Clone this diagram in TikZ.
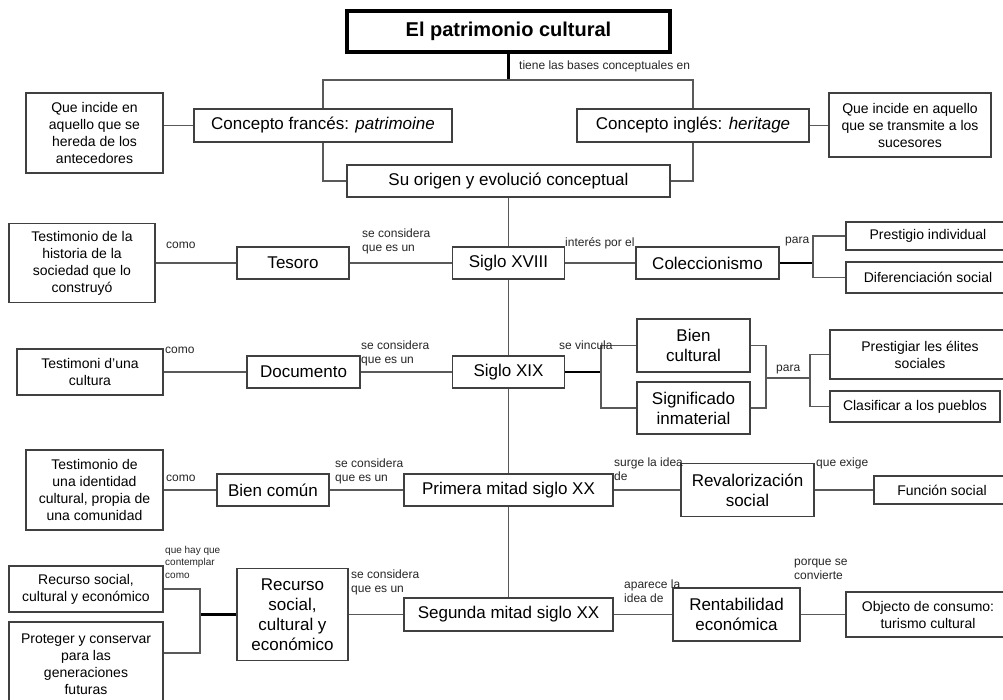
\documentclass[tikz,border=0pt]{standalone}
\usepackage{fontspec}
\setmainfont{Liberation Sans}

\begin{document}
\begin{tikzpicture}[
    x=1pt, y=-1pt,
    % --- box styles ---
    headbox/.style={
        draw=black, fill=white, line width=3.5pt,
        align=center, inner sep=1pt,
        font=\bfseries\fontsize{20}{24}\selectfont},
    topic/.style={
        draw=black!75, fill=white, line width=1.3pt,
        align=center, inner sep=1pt,
        font=\fontsize{17}{20}\selectfont},
    note/.style={
        draw=black!75, fill=white, line width=1.3pt,
        align=center, inner sep=1pt,
        font=\fontsize{14}{17}\selectfont},
    wh/.style 2 args={minimum width=#1pt, minimum height=#2pt},
    lbl/.style={
        anchor=north west, align=left, inner sep=0pt,
        font=\fontsize{12}{14}\selectfont, text=black!85},
    lblsmall/.style={lbl, font=\fontsize{10}{12.5}\selectfont},
    link/.style={draw=black!65, line width=1.3pt},
    fork/.style={draw=black, line width=2.3pt},
]
\useasboundingbox (0,0) rectangle (1003,700);

% ===== HEAD AND CONCEPTS =====
\node[headbox, wh={323}{41}] (title) at (508.5,31.5) {El patrimonio cultural};

\node[topic, wh={258}{33}] (cfr) at (323,125.5) {Concepto francés: \textit{patrimoine}};
\node[note, wh={137}{80}] (queFr) at (94.5,133) {Que incide en\\aquello que se\\hereda de los\\antecedores};

\node[topic, wh={232}{33}] (cen) at (693,125.5) {Concepto inglés: \textit{heritage}};
\node[note, wh={162}{64}] (queEn) at (910,125) {Que incide en aquello\\que se transmite a los\\sucesores};

\node[topic, wh={323}{32}] (origen) at (508.5,181) {Su origen y evolució conceptual};

% ===== SIGLO XVIII =====
\node[topic, wh={112}{32}] (sXVIII) at (508.5,263) {Siglo XVIII};
\node[topic, wh={112}{32}] (tesoro) at (293,263) {Tesoro};
\node[note, wh={146}{79}] (testHist) at (82,263) {Testimonio de la\\historia de la\\sociedad que lo\\construyó};
\node[topic, wh={143}{32}] (colecc) at (707.5,263) {Coleccionismo};
\node[note, wh={164}{28}] (prestInd) at (928,236) {Prestigio individual};
\node[note, wh={164}{31}] (difSoc) at (928,277.5) {Diferenciación social};

% ===== SIGLO XIX =====
\node[topic, wh={112}{32}] (sXIX) at (508.5,372) {Siglo XIX};
\node[topic, wh={113}{32}] (documento) at (303.5,372) {Documento};
\node[note, wh={146}{46}] (testCult) at (90,372) {Testimoni d’una\\cultura};
\node[topic, wh={113}{53}] (bienCult) at (693.5,345.5) {Bien\\cultural};
\node[topic, wh={113}{52}] (signif) at (693.5,408) {Significado\\inmaterial};
\node[note, wh={180}{49}] (prestElit) at (920,354.5) {Prestigiar les élites\\sociales};
\node[note, wh={170}{31}] (clasif) at (915,406.5) {Clasificar a los pueblos};

% ===== PRIMERA MITAD =====
\node[topic, wh={209}{32}] (primera) at (508.5,490) {Primera mitad siglo XX};
\node[topic, wh={112}{32}] (bienComun) at (273,490) {Bien común};
\node[note, wh={137}{80}] (testIdent) at (94.5,490) {Testimonio de\\una identidad\\cultural, propia de\\una comunidad};
\node[topic, wh={133}{53}] (revalor) at (747.5,490) {Revalorización\\social};
\node[note, wh={136}{28}] (funcion) at (942,490) {Función social};

% ===== SEGUNDA MITAD =====
\node[topic, wh={209}{33}] (segunda) at (508.5,614.5) {Segunda mitad siglo XX};
\node[topic, wh={111}{92}] (recMid) at (292.5,614.5) {Recurso\\social,\\cultural y\\económico};
\node[note, wh={154}{46}] (recLeft) at (86,589) {Recurso social,\\cultural y económico};
\node[note, wh={154}{84}] (proteger) at (86,664) {Proteger y conservar\\para las\\generaciones\\futuras};
\node[topic, wh={127}{53}] (rentab) at (736.5,614.5) {Rentabilidad\\económica};
\node[note, wh={164}{45}] (objecto) at (928,614.5) {Objecto de consumo:\\turismo cultural};

% ===== JUNCTIONS =====
\coordinate (split) at (508.5,80);
\coordinate (brA) at (813,263);
\coordinate (brB) at (601,372);
\coordinate (brC) at (766,378);
\coordinate (brD) at (810,378);
\coordinate (brE) at (200,614.5);

% ===== ARROWS — head =====
\draw[fork] (title.south) -- (split);
\draw[link] (cfr.north) |- (split) -| (cen.north);
\draw[link] (cfr.west) -- (cfr.west -| queFr.east);
\draw[link] (cen.east) -- (cen.east -| queEn.west);
\draw[link] (cfr.south) |- (origen.west);
\draw[link] (cen.south) |- (origen.east);

% ===== ARROWS — spine =====
\draw[link] (origen.south) -- (sXVIII.north);
\draw[link] (sXVIII.south) -- (sXIX.north);
\draw[link] (sXIX.south) -- (primera.north);
\draw[link] (primera.south) -- (segunda.north);

% ===== ARROWS — rows =====
\draw[link] (testHist.east) -- (tesoro.west);
\draw[link] (tesoro.east) -- (sXVIII.west);
\draw[link] (sXVIII.east) -- (colecc.west);
\draw[fork] (colecc.east) -- (brA);
\draw[link] (prestInd.west) -| (brA);
\draw[link] (difSoc.west) -| (brA);

\draw[link] (testCult.east) -- (documento.west);
\draw[link] (documento.east) -- (sXIX.west);
\draw[fork] (sXIX.east) -- (brB);
\draw[link] (bienCult.west) -| (brB);
\draw[link] (signif.west) -| (brB);
\draw[link] (bienCult.east) -| (brC) |- (signif.east);
\draw[link] (brC) -- (brD);
\draw[link] (prestElit.west) -| (brD);
\draw[link] (clasif.west) -| (brD);

\draw[link] (testIdent.east) -- (bienComun.west);
\draw[link] (bienComun.east) -- (primera.west);
\draw[link] (primera.east) -- (revalor.west);
\draw[link] (revalor.east) -- (funcion.west);

\draw[link] (segunda.west) -- (recMid.east);
\draw[fork] (recMid.west) -- (brE);
\draw[link] (recLeft.east) -| (brE);
\draw[link] (proteger.8) -| (brE);
\draw[link] (segunda.east) -- (rentab.west);
\draw[link] (rentab.east) -- (objecto.west);

% ===== LABELS =====
\node[lbl] (lTiene) at (519,61) {tiene las bases conceptuales en};
\node[lbl] (lComo1) at (166,242) {como};
\node[lbl] (lCons1) at (362,229) {se considera\\que es un};
\node[lbl] (lInter) at (565,237) {interés por el};
\node[lbl] (lPara1) at (785,237) {para};
\node[lbl] (lComo2) at (165,347) {como};
\node[lbl] (lCons2) at (361,341) {se considera\\que es un};
\node[lbl] (lVinc) at (559,341) {se vincula};
\node[lbl] (lPara2) at (776,365) {para};
\node[lbl] (lComo3) at (166,475) {como};
\node[lbl] (lCons3) at (335,459) {se considera\\que es un};
\node[lbl] (lSurge) at (614,458) {surge la idea\\de};
\node[lbl] (lExige) at (816,458) {que exige};
\node[lblsmall] (lHay) at (165,546) {que hay que\\contemplar\\como};
\node[lbl] (lCons4) at (351,570) {se considera\\que es un};
\node[lbl] (lApar) at (624,580) {aparece la\\idea de};
\node[lbl] (lPorq) at (794,559) {porque se\\convierte};

\end{tikzpicture}
\end{document}
